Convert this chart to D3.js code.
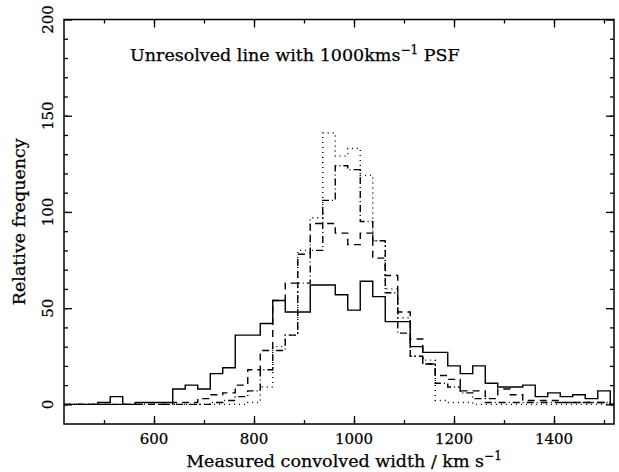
<!DOCTYPE html>
<html>
<head>
<meta charset="utf-8">
<script src="https://cdn.jsdelivr.net/npm/d3@7"></script>
<style>
  body { margin: 0; background: #fff; }
  text { font-family: 'DejaVu Serif', serif; fill: #000; stroke: #000; stroke-width: 0.25; }
</style>
</head>
<body>
<div id="chart"></div>
<script>
// bin centres (km/s), 25 km/s wide
const bins = [450, 475, 500, 525, 550, 575, 600, 625, 650, 675, 700, 725, 750, 775, 800, 825, 850, 875, 900, 925, 950, 975, 1000, 1025, 1050, 1075, 1100, 1125, 1150, 1175, 1200, 1225, 1250, 1275, 1300, 1325, 1350, 1375, 1400, 1425, 1450, 1475, 1500]

const solid = [0, 0, 1, 4, 0, 1, 1, 1, 8, 10, 8, 16, 19, 36, 36, 42, 54, 48, 48, 62, 62, 57, 49, 64, 56, 43, 43, 30, 27, 27, 20, 16, 20, 11, 9, 9, 10, 4, 6, 4, 5, 3, 7]
const dashed = [0, 0, 0, 0, 0, 0, 0, 0, 1, 1, 3, 5, 6, 10, 18, 28, 54, 63, 78, 94, 94, 89, 83, 89, 76, 67, 48, 34, 21, 15, 13, 7, 7, 3, 8, 5, 2, 2, 2, 1, 1, 1, 1]
const dotdash = [0, 0, 0, 0, 0, 0, 0, 0, 0, 0, 0, 1, 2, 4, 7, 18, 28, 36, 63, 80, 106, 124, 122, 95, 85, 58, 37, 25, 21, 11, 9, 6, 3, 1, 1, 1, 1, 1, 1, 1, 1, 1, 1]
const dotted = [0, 0, 0, 0, 0, 0, 0, 0, 0, 0, 0, 0, 0, 0, 1, 9, 30, 36, 80, 97, 141, 129, 133, 119, 85, 60, 45, 25, 23, 2, 1, 1, 0, 0, 0, 0, 0, 0, 0, 0, 0, 0, 0]

const xTicks = [600, 800, 1000, 1200, 1400]
const yTicks = [0, 50, 100, 150, 200]

const binWidth = 25
const margin = { top: 19.5, left: 64, right: 5, bottom: 48 }
const width = 619 - margin.left - margin.right
const height = 472 - margin.top - margin.bottom

const svg = d3
  .select('#chart')
  .append('svg')
  .attr('width', 619)
  .attr('height', 472)
  .append('g')
  .attr('transform', 'translate(' + margin.left + ',' + margin.top + ')')

const xPositionScale = d3.scaleLinear().domain([420, 1520]).range([0, width])
const yPositionScale = d3.scaleLinear().domain([-10.2, 200]).range([height, 0])

// step outline of one histogram
function stepPath (values) {
  const pts = [[420, 0]]
  bins.forEach((c, i) => {
    pts.push([c - binWidth / 2, values[i]])
    pts.push([c + binWidth / 2, values[i]])
  })
  pts.push([bins[bins.length - 1] + binWidth / 2, 0])
  pts.push([1520, 0])
  const out = [[pts[0][0], 0]]
  for (let i = 1; i < pts.length; i++) {
    out.push([pts[i][0], out[out.length - 1][1]])
    out.push([pts[i][0], pts[i][1]])
  }
  return d3.line()
    .x(d => xPositionScale(d[0]))
    .y(d => yPositionScale(d[1]))(out)
}

const series = [
  { values: dotted, dash: '1,4' },
  { values: dotdash, dash: '7,3,1,3' },
  { values: dashed, dash: '7,5' },
  { values: solid, dash: null }
]

svg.append('g')
  .selectAll('path')
  .data(series)
  .enter().append('path')
  .attr('d', d => stepPath(d.values))
  .attr('fill', 'none')
  .attr('stroke', '#000')
  .attr('stroke-width', 1.4)
  .attr('stroke-dasharray', d => d.dash)

// axes: ticks inward on all four sides
const xMajor = d3.axisBottom(xPositionScale).tickValues(xTicks).tickSize(-8).tickFormat('')
const xMinor = d3.axisBottom(xPositionScale).tickValues(d3.range(500, 1520, 100)).tickSize(-4).tickFormat('')
const yMajor = d3.axisLeft(yPositionScale).tickValues(yTicks).tickSize(-8).tickFormat('')
const yMinor = d3.axisLeft(yPositionScale).tickValues(d3.range(0, 200, 10)).tickSize(-4).tickFormat('')

function drawAxis (axis, transform) {
  const g = svg.append('g').attr('transform', transform).call(axis)
  g.select('.domain').remove()
  g.selectAll('line').attr('stroke', '#000').attr('stroke-width', 1.3)
}
drawAxis(xMajor, 'translate(0,' + height + ')')
drawAxis(xMinor, 'translate(0,' + height + ')')
drawAxis(xMajor.tickSize(8), 'translate(0,0)')
drawAxis(xMinor.tickSize(4), 'translate(0,0)')
drawAxis(yMajor, 'translate(0,0)')
drawAxis(yMinor, 'translate(0,0)')
drawAxis(yMajor.tickSize(8), 'translate(' + width + ',0)')
drawAxis(yMinor.tickSize(4), 'translate(' + width + ',0)')

svg.append('rect')
  .attr('width', width)
  .attr('height', height)
  .attr('fill', 'none')
  .attr('stroke', '#000')
  .attr('stroke-width', 1.5)

// tick labels
svg.append('g')
  .selectAll('text')
  .data(xTicks)
  .enter().append('text')
  .attr('x', d => xPositionScale(d))
  .attr('y', height + 20)
  .attr('text-anchor', 'middle')
  .attr('font-size', 15)
  .text(d => d)

svg.append('g')
  .selectAll('text')
  .data(yTicks)
  .enter().append('text')
  .attr('transform', d => 'translate(' + (-11) + ',' + yPositionScale(d) + ') rotate(-90)')
  .attr('text-anchor', 'middle')
  .attr('font-size', 15)
  .text(d => d)

// axis titles
const xt = svg.append('text')
  .attr('x', width / 2 + 5)
  .attr('y', height + 43)
  .attr('text-anchor', 'middle')
  .attr('font-size', 17.5)
xt.append('tspan').text('Measured convolved width / km s')
xt.append('tspan').attr('dy', -7).attr('font-size', 12).text('−1')

svg.append('text')
  .attr('transform', 'translate(' + (-39) + ',' + (height / 2) + ') rotate(-90)')
  .attr('text-anchor', 'middle')
  .attr('font-size', 17.5)
  .text('Relative frequency')

// label inside the plot
const lab = svg.append('text')
  .attr('x', 66)
  .attr('y', 41)
  .attr('font-size', 17.5)
lab.append('tspan').text('Unresolved line with 1000kms')
lab.append('tspan').attr('dy', -7).attr('font-size', 12).text('−1')
lab.append('tspan').attr('dy', 7).text(' PSF')
</script>
</body>
</html>
